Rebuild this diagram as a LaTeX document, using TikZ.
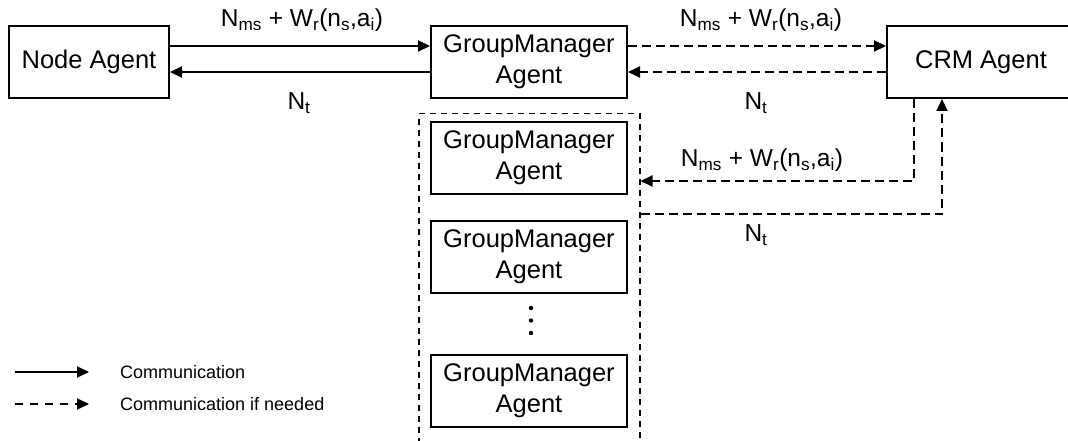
\documentclass[tikz,border=0pt]{standalone}
\usepackage{fontspec}
\setmainfont{Liberation Sans}
\usetikzlibrary{arrows.meta}
\begin{document}
\begin{tikzpicture}[x=1pt,y=-1pt,
  agentbox/.style={draw,line width=2pt,inner sep=0pt,align=center,
    font=\fontsize{25.5}{31}\selectfont},
  conn/.style={line width=2pt,-{Triangle[length=12pt,width=11pt]}},
  maybe/.style={conn,dash pattern=on 9pt off 5pt},
  lbl/.style={font=\fontsize{24.5}{28}\selectfont,inner sep=0pt},
  legtext/.style={font=\fontsize{18}{22}\selectfont,anchor=west,inner sep=0pt}]
\useasboundingbox (0,0) rectangle (1068,441);
% boxes
\node[agentbox,minimum width=160pt,minimum height=72pt] (na) at (89,62) {Node Agent};
\node[agentbox,minimum width=196pt,minimum height=72pt] (gm1) at (529,62) {GroupManager\\Agent};
\node[agentbox,minimum width=188pt,minimum height=72pt] (crm) at (981,62) {CRM Agent};
\node[draw,dash pattern=on 6pt off 5pt,line width=1.5pt,minimum width=221pt,minimum height=345pt,anchor=north west,inner sep=0pt] (cont) at (418,113) {};
\node[agentbox,minimum width=196pt,minimum height=72pt] (gm2) at (529,158) {GroupManager\\Agent};
\node[agentbox,minimum width=196pt,minimum height=72pt] (gm3) at (529,257) {GroupManager\\Agent};
\node[agentbox,minimum width=196pt,minimum height=72pt] (gm4) at (529,391) {GroupManager\\Agent};
\node[inner sep=0pt,minimum size=1pt] (dots) at (531,320) {};
\fill (531,308) circle (2.2pt) (531,320.5) circle (2.2pt) (531,333) circle (2.2pt);
% helper coordinates
\coordinate (ya) at (0,46);
\coordinate (yb) at (0,72);
\coordinate (yc) at (0,181);
\coordinate (yd) at (0,214);
\coordinate (xd) at (914,0);
\coordinate (xu) at (942,0);
% top row
\draw[conn] (na.east |- ya) -- (gm1.west |- ya);
\draw[conn] (gm1.west |- yb) -- (na.east |- yb);
\draw[maybe] (gm1.east |- ya) -- (crm.west |- ya);
\draw[maybe] (crm.west |- yb) -- (gm1.east |- yb);
% CRM to container
\draw[maybe] (crm.south -| xd) -- (xd |- yc) -- (cont.east |- yc);
\draw[maybe] (cont.east |- yd) -- (xu |- yd) -- (crm.south -| xu);
% labels
\node[lbl] (l1) at (302,20) {N\textsubscript{ms} + W\textsubscript{r}(n\textsubscript{s},a\textsubscript{i})};
\node[lbl] (l2) at (299,103) {N\textsubscript{t}};
\node[lbl] (l3) at (761,20) {N\textsubscript{ms} + W\textsubscript{r}(n\textsubscript{s},a\textsubscript{i})};
\node[lbl] (l4) at (756,103) {N\textsubscript{t}};
\node[lbl] (l5) at (762,160) {N\textsubscript{ms} + W\textsubscript{r}(n\textsubscript{s},a\textsubscript{i})};
\node[lbl] (l6) at (756,235) {N\textsubscript{t}};
% legend
\coordinate (s1) at (15,372);
\coordinate (e1) at (89,372);
\coordinate (s2) at (15,404);
\coordinate (e2) at (89,404);
\draw[conn] (s1) -- (e1);
\draw[maybe,dash pattern=on 8pt off 7pt] (s2) -- (e2);
\node[legtext] (t1) at (120,372) {Communication};
\node[legtext] (t2) at (120,404) {Communication if needed};
\end{tikzpicture}
\end{document}
